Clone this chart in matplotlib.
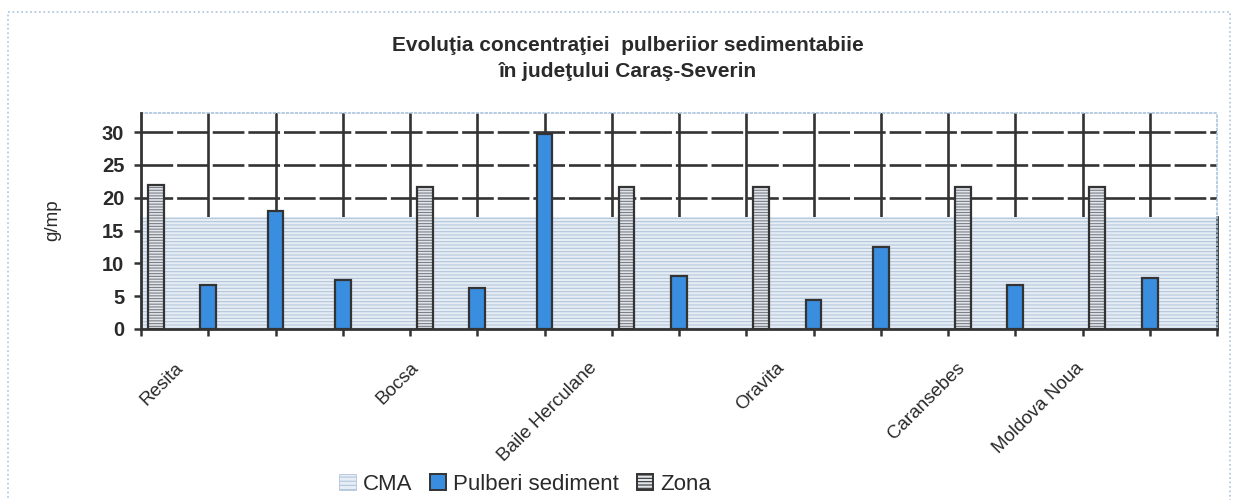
import numpy as np
import matplotlib
matplotlib.use('Agg')
import matplotlib.pyplot as plt
from matplotlib.patches import Patch, Rectangle

plt.rcParams['font.family'] = ['Liberation Sans', 'DejaVu Sans']

# one slot per row of the original sheet; each slot holds either a Zona or a Pulberi value
slot_labels = ['Resita', '', '', '', 'Bocsa', '', '', 'Baile Herculane', '',
               'Oravita', '', '', 'Caransebes', '', 'Moldova Noua', '']
zona = [22.0, np.nan, np.nan, np.nan, 21.7, np.nan, np.nan, 21.7, np.nan,
        21.7, np.nan, np.nan, 21.7, np.nan, 21.7, np.nan]
pulberi = [np.nan, 6.7, 17.9, 7.5, np.nan, 6.2, 29.7, np.nan, 8.0,
           np.nan, 4.4, 12.5, np.nan, 6.7, np.nan, 7.8]
cma = [17] * 16

title = 'Evoluţia concentraţiei  pulberiior sedimentabiie\nîn judeţului Caraş-Severin'
ylabel = 'g/mp'
legend_names = ['CMA', 'Pulberi sediment', 'Zona']

blue = '#3a8ee0'
dark = '#333333'
cma_face = '#e6edf5'
cma_hatch = '#b3c6db'
zona_face = '#e2e5ea'

fig = plt.figure(figsize=(12.37, 5.0), dpi=100)
ax = fig.add_axes([141/1237, 1-329/500, (1217-141)/1237, (329-113)/500])

n = len(slot_labels)
idx = np.arange(n)
zona = np.array(zona)
pulberi = np.array(pulberi)
cma = np.array(cma, dtype=float)

# CMA area over the whole width
xs = np.arange(n + 1)
ys = np.r_[cma, cma[-1]]
plt.rcParams['hatch.linewidth'] = 0.8
ax.fill_between(xs, ys, step='post', facecolor=cma_face, edgecolor=cma_hatch,
                hatch='-----', lw=0, zorder=1)
ax.plot([n, n], [0, cma[-1]], color=dark, lw=2, zorder=1.5, clip_on=False)

w = 0.235
zx = idx + 0.22
# Zona bars: hatch first, outline on top
ax.bar(zx, zona, width=w, facecolor=zona_face, edgecolor='#7a7f88', hatch='------',
       lw=0, zorder=2)
ax.bar(zx, zona, width=w, fill=False, edgecolor=dark, lw=1.6, zorder=2.5)
ax.bar(idx, pulberi, width=w, color=blue, edgecolor=dark, lw=1.6, zorder=2.5)

ax.set_xlim(0, n)
ax.set_ylim(0, 32.9)
ax.set_yticks(np.arange(0, 31, 5))
ax.set_xticks(np.arange(0, n + 1))
ax.set_xticklabels([])

# grid
for k in range(1, n):
    ax.axvline(k, color=dark, lw=1.9, zorder=0.5)
for v in range(5, 31, 5):
    ax.axhline(v, color=dark, lw=1.9, ls=(0, (12, 1.5)), zorder=0.5)

for s in ['top', 'right']:
    ax.spines[s].set_color('#a9c3dc')
    ax.spines[s].set_linestyle(':')
    ax.spines[s].set_linewidth(1.2)
for s in ['left', 'bottom']:
    ax.spines[s].set_color(dark)
    ax.spines[s].set_linewidth(2)
    ax.spines[s].set_zorder(3)
ax.tick_params(axis='both', color=dark, width=1.8, length=5)
ax.tick_params(axis='y', labelsize=14.5, labelcolor='#2a2a2a', pad=7)
for t in ax.get_yticklabels():
    t.set_fontweight('bold')

# category names, rotated 45 degrees
label_shift = [0.68, 0, 0, 0, 0.18, 0, 0, -0.17, 0, 0.62, 0, 0, 0.30, 0, 0.07, 0]
trans = ax.get_xaxis_transform()
for k, lab in enumerate(slot_labels):
    if lab:
        ax.text(k + label_shift[k], -0.14, lab, transform=trans, rotation=45,
                ha='right', va='top', fontsize=13.5, color='#2a2a2a')

fig.text(53/1237, 1-220/500, ylabel, rotation=90, ha='center', va='center',
         fontsize=13.5, color='#2a2a2a')
fig.text(628/1237, 1-58.5/500, title, ha='center', va='center', fontsize=15,
         fontweight='bold', color='#2a2a2a', linespacing=1.5)

handles = [Patch(facecolor=cma_face, edgecolor=cma_hatch, hatch='----', lw=0.6),
           Patch(facecolor=blue, edgecolor=dark, lw=1.4),
           Patch(facecolor=zona_face, edgecolor=dark, hatch='-----', lw=1.4)]
fig.legend(handles, legend_names, loc='center', bbox_to_anchor=(525/1237, 1-484/500),
           ncol=3, frameon=False, fontsize=16, handlelength=0.75, handleheight=0.75,
           handletextpad=0.3, columnspacing=0.8, labelcolor='#2a2a2a')

fig.patches.append(Rectangle((8/1237, -0.02), 1222/1237, 1.02-12/500, transform=fig.transFigure,
                             fill=False, edgecolor='#a9c3dc', ls=':', lw=1.2))

fig.savefig('out.png', dpi=100, facecolor='white')
